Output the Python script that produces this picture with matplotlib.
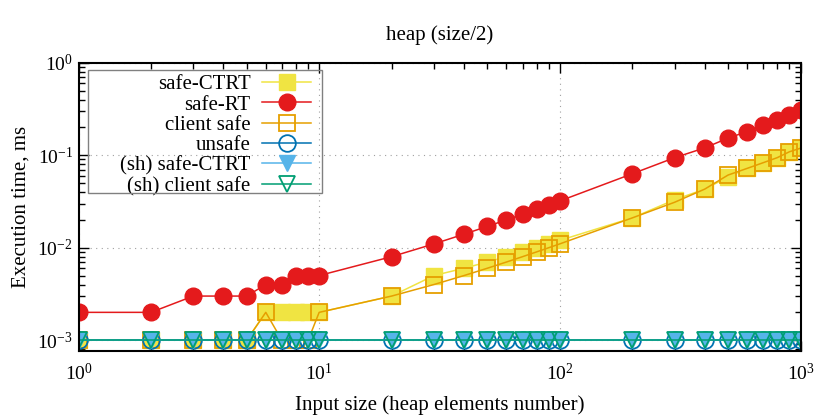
import matplotlib
matplotlib.use("Agg")
import matplotlib.pyplot as plt
from matplotlib.patches import Rectangle
from matplotlib.ticker import LogLocator, FuncFormatter, NullFormatter
import math

plt.rcParams['font.family'] = ['Liberation Serif', 'DejaVu Serif']
plt.rcParams['mathtext.fontset'] = 'custom'
plt.rcParams['mathtext.rm'] = 'Liberation Serif'
plt.rcParams['mathtext.it'] = 'Liberation Serif:italic'
plt.rcParams['axes.unicode_minus'] = False

x = [1, 2, 3, 4, 5, 6, 7, 8, 9, 10,
     20, 30, 40, 50, 60, 70, 80, 90, 100,
     200, 300, 400, 500, 600, 700, 800, 900, 1000]

safe_ctrt = [0.001, 0.001, 0.001, 0.001, 0.001, 0.002, 0.002, 0.002, 0.002, 0.002,
             0.003, 0.005, 0.006, 0.007, 0.008, 0.009, 0.010, 0.011, 0.012,
             0.021, 0.033, 0.043, 0.058, 0.072, 0.083, 0.094, 0.109, 0.119]
safe_rt = [0.002, 0.002, 0.003, 0.003, 0.003, 0.004, 0.004, 0.005, 0.005, 0.005,
           0.008, 0.011, 0.014, 0.017, 0.020, 0.023, 0.026, 0.029, 0.032,
           0.063, 0.094, 0.120, 0.153, 0.180, 0.210, 0.240, 0.270, 0.305]
client_safe = [0.001, 0.001, 0.001, 0.001, 0.001, 0.002, 0.001, 0.001, 0.001, 0.002,
               0.003, 0.004, 0.005, 0.006, 0.007, 0.008, 0.009, 0.010, 0.011,
               0.021, 0.031, 0.043, 0.061, 0.072, 0.083, 0.094, 0.109, 0.119]
unsafe = [0.001] * len(x)
sh_safe_ctrt = [0.001] * len(x)
sh_client_safe = [0.001] * len(x)

title = "heap (size/2)"
xlabel = "Input size (heap elements number)"
ylabel = "Execution time, ms"

FS = 15
TFS = 14
W, H = 830, 415
fig = plt.figure(figsize=(8.3, 4.15), dpi=100)
ax = fig.add_axes([78.5 / W, 1 - 350.7 / H, 722 / W, 288 / H])

lw = 1.1
ax.plot(x, safe_ctrt, color='#F0E442', lw=lw, marker='s', ms=11.5,
        mfc='#F0E442', mec='#F0E442', label='safe-CTRT')
ax.plot(x, safe_rt, color='#E41A1C', lw=lw, marker='o', ms=12,
        mfc='#E41A1C', mec='#E41A1C', label='safe-RT')
ax.plot(x, client_safe, color='#E69F00', lw=lw, marker='s', ms=11.5,
        mfc='none', mec='#E69F00', mew=1.3, label='client safe')
ax.plot(x, unsafe, color='#0072B2', lw=lw, marker='o', ms=12,
        mfc='none', mec='#0072B2', mew=1.3, label='unsafe')
ax.plot(x, sh_safe_ctrt, color='#56B4E9', lw=lw, marker='v', ms=11,
        mfc='#56B4E9', mec='#56B4E9', label='(sh) safe-CTRT')
ax.plot(x, sh_client_safe, color='#009E73', lw=lw, marker='v', ms=11,
        mfc='none', mec='#009E73', mew=1.3, label='(sh) client safe')

ax.set_xscale('log')
ax.set_yscale('log')
ax.set_xlim(1, 1000)
ax.set_ylim(7.7e-4, 1)

fmt = FuncFormatter(lambda v, p: r'$\mathdefault{10^{%d}}$' % round(math.log10(v)))
ax.xaxis.set_major_locator(LogLocator(base=10, numticks=10))
ax.yaxis.set_major_locator(LogLocator(base=10, numticks=10))
ax.xaxis.set_major_formatter(fmt)
ax.yaxis.set_major_formatter(fmt)
ax.xaxis.set_minor_locator(LogLocator(base=10, subs=range(2, 10), numticks=20))
ax.yaxis.set_minor_locator(LogLocator(base=10, subs=range(2, 10), numticks=20))
ax.xaxis.set_minor_formatter(NullFormatter())
ax.yaxis.set_minor_formatter(NullFormatter())

ax.tick_params(which='both', direction='in', top=True, right=True,
               labelsize=TFS, width=1.0, colors='black')
ax.tick_params(which='major', length=7)
ax.tick_params(which='minor', length=4)
ax.tick_params(axis='x', which='major', pad=9)
ax.tick_params(axis='y', which='major', pad=4)

for s in ax.spines.values():
    s.set_linewidth(1.5)

ax.grid(True, which='major', color='#a0a0a0', linestyle=(0, (1, 4)), lw=0.8)

ax.set_title(title, fontsize=FS, pad=16)
ax.set_xlabel(xlabel, fontsize=FS, labelpad=8)
ax.set_ylabel(ylabel, fontsize=FS, labelpad=5)

# legend (gnuplot style: text right-aligned, sample on the right, wide left margin)
leg = ax.legend(loc='upper right', markerfirst=False, fontsize=FS,
                frameon=False, borderpad=0, borderaxespad=0,
                handlelength=2.35, handletextpad=0.55, labelspacing=0.04,
                bbox_to_anchor=(311 / W, 1 - 74.5 / H),
                bbox_transform=fig.transFigure)
fig.patches.append(Rectangle((88.3 / W, 1 - 192.7 / H), 233.4 / W, 122.7 / H,
                             transform=fig.transFigure, facecolor='none',
                             edgecolor='#808080', lw=1.0, zorder=5))

fig.savefig('out.png', dpi=100)
